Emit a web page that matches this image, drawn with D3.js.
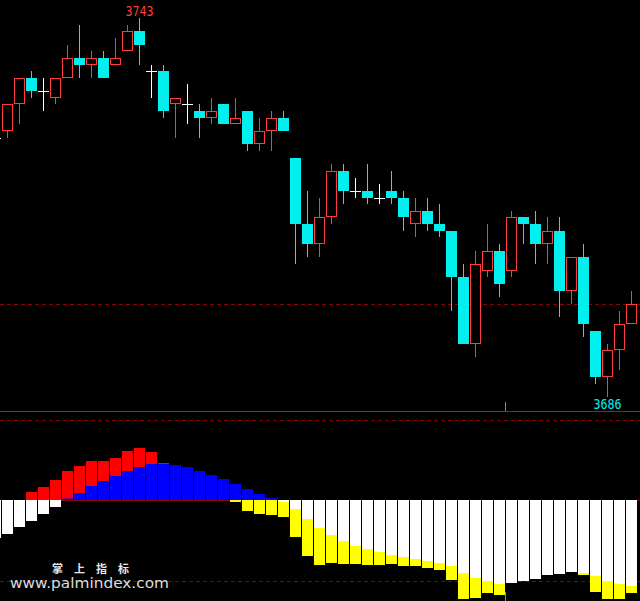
<!DOCTYPE html>
<html>
<head>
<meta charset="utf-8">
<script src="https://cdn.jsdelivr.net/npm/d3@7/dist/d3.min.js"></script>
<style>
  html, body { margin: 0; padding: 0; background: #000; }
  svg { display: block; }
</style>
</head>
<body>
<div id="chart"></div>
<script>
// ---------- data ----------
const bars = [-1,0,1,2,3,4,5,6,7,8,9,10,11,12,13,14,15,16,17,18,19,20,21,22,23,24,25,26,27,28,29,30,31,32,33,34,35,36,37,38,39,40,41,42,43,44,45,46,47,48,49,50,51,52];
const openP  = [3725,3726,3730,3734,3732,3731,3734,3737,3736,3737,3736,3738,3741,3735,3735,3730,3730,3729,3728,3730,3727,3729,3724,3726,3728,3722,3712,3709,3713,3720,3717,3717,3716,3717,3716,3712,3714,3712,3711,3704,3694,3705,3708,3705,3713,3712,3709,3711,3702,3707,3696,3689,3693,3697];
const highP  = [3726,3730,3734,3735,3734,3734,3739,3742,3738,3738,3740,3742,3743,3736,3736,3731,3733,3730,3731,3730,3731,3729,3728,3729,3729,3722,3717,3716,3721,3721,3719,3721,3718,3720,3717,3716,3716,3715,3711,3706,3708,3712,3709,3714,3713,3714,3713,3713,3707,3709,3696,3694,3699,3702];
const lowP   = [3724,3725,3727,3731,3729,3730,3734,3734,3734,3734,3736,3738,3736,3731,3728,3725,3727,3725,3727,3727,3727,3723,3723,3723,3726,3706,3707,3707,3712,3715,3716,3715,3715,3715,3711,3710,3711,3710,3699,3694,3692,3704,3701,3704,3709,3706,3706,3698,3700,3695,3688,3686,3690,3697];
const closeP = [3725,3730,3734,3732,3732,3734,3737,3736,3737,3734,3737,3741,3739,3735,3729,3731,3730,3728,3729,3727,3728,3724,3726,3728,3726,3712,3709,3713,3720,3717,3717,3716,3716,3716,3713,3714,3712,3711,3704,3694,3706,3708,3703,3713,3712,3709,3711,3702,3707,3697,3689,3693,3697,3700];
// indicator: series 1 (red when >0, yellow when <0), series 2 drawn over it (blue when >0, white when <0)
const ind1 = [-20,-12,-3,8,13,20,29,34,39,39,42,49,52,48,37,30,23,16,10,4,-2,-11,-14,-15,-17,-37,-56,-65,-63,-64,-64,-65,-65,-64,-66,-66,-68,-70,-80,-99,-98,-93,-95,-80,-74,-70,-68,-68,-70,-75,-92,-99,-99,-93];
const ind2 = [-38,-34,-27,-21,-14,-7,1.5,7,14,19,24,29,33,36,36,35,33,29,25,21,16,11,6,2,-2,-9,-19,-28,-35,-41,-46,-49,-52,-55,-57,-59,-61,-63,-66,-73,-78,-81,-84,-83,-81,-79,-75,-74,-72,-73,-76,-81,-84,-86];
const priceDomain = [3686, 3743];
const priceRefLevel = 3700;
const indDomain = [-100, 100];
const indRefLevels = [80, -81];
const separatorBar = 41.5;
const watermark1 = "掌上指标";
const watermark2 = "www.palmindex.com";

// ---------- layout ----------
const W = 640, H = 601;
const C = { red: "#ff3b3b", cyan: "#00f0f0", white: "#ffffff", blue: "#0000ff", redBar: "#ff0000", yellow: "#ffff00", dash: "#8c0000", sep: "#b01818" };

const svg = d3.select("#chart").append("svg").attr("width", W).attr("height", H);
svg.append("rect").attr("width", W).attr("height", H).attr("fill", "#000");

const x = d3.scaleBand().domain(bars).range([-11, -11 + 12 * bars.length]).padding(0);
const cx = i => x(i) + 6.5;           // wick centre
const y = d3.scaleLinear().domain(priceDomain).range([397, 18]);
const yi = d3.scaleLinear().domain(indDomain).range([600, 400]);

const data = bars.map((b, k) => ({ b, o: openP[k], h: highP[k], l: lowP[k], c: closeP[k], s1: ind1[k], s2: ind2[k] }));

// ---------- upper panel ----------
svg.append("line").attr("x1", 0).attr("x2", W).attr("y1", Math.round(y(priceRefLevel)) + 0.5).attr("y2", Math.round(y(priceRefLevel)) + 0.5)
  .attr("stroke", C.dash).attr("stroke-dasharray", "4,3");

const cg = svg.append("g");
data.forEach(d => {
  const col = d.c > d.o ? C.red : (d.c < d.o ? C.cyan : C.white);
  const top = Math.round(y(Math.max(d.o, d.c)));
  const bot = Math.round(y(Math.min(d.o, d.c)));
  const hy = Math.round(y(d.h)), ly = Math.round(y(d.l));
  const xc = cx(d.b);
  if (d.c === d.o) {
    cg.append("line").attr("x1", xc).attr("x2", xc).attr("y1", hy).attr("y2", ly).attr("stroke", col);
    cg.append("line").attr("x1", x(d.b) + 1).attr("x2", x(d.b) + 12).attr("y1", top + 0.5).attr("y2", top + 0.5).attr("stroke", col);
    return;
  }
  if (hy < top) cg.append("line").attr("x1", xc).attr("x2", xc).attr("y1", hy).attr("y2", top).attr("stroke", col);
  if (ly > bot) cg.append("line").attr("x1", xc).attr("x2", xc).attr("y1", bot).attr("y2", ly).attr("stroke", col);
  if (d.c > d.o) {
    cg.append("rect").attr("x", x(d.b) + 1.5).attr("y", top + 0.5).attr("width", 10).attr("height", Math.max(1, bot - top - 1))
      .attr("fill", "#000").attr("stroke", col).attr("stroke-width", 1);
  } else {
    cg.append("rect").attr("x", x(d.b) + 1).attr("y", top).attr("width", 11).attr("height", Math.max(1, bot - top))
      .attr("fill", col);
  }
});

// high / low labels
const iMax = d3.maxIndex(data, d => d.h), iMin = d3.minIndex(data, d => d.l);
svg.append("text").attr("x", cx(data[iMax].b)).attr("y", 16).attr("text-anchor", "middle")
  .attr("fill", C.red).attr("font-family", "DejaVu Sans Mono").attr("font-size", 14)
  .attr("textLength", 28).attr("lengthAdjust", "spacingAndGlyphs").text(data[iMax].h);
svg.append("text").attr("x", cx(data[iMin].b)).attr("y", 409).attr("text-anchor", "middle")
  .attr("fill", C.cyan).attr("font-family", "DejaVu Sans Mono").attr("font-size", 14)
  .attr("textLength", 28).attr("lengthAdjust", "spacingAndGlyphs").text(data[iMin].l);

// ---------- separator ----------
svg.append("line").attr("x1", 0).attr("x2", W).attr("y1", 411.5).attr("y2", 411.5).attr("stroke", C.sep);
const sepX = x(Math.floor(separatorBar)) + 12.5;
svg.append("line").attr("x1", sepX).attr("x2", sepX).attr("y1", 402).attr("y2", 411).attr("stroke", "#888");
svg.append("line").attr("x1", sepX).attr("x2", sepX).attr("y1", 592).attr("y2", 601).attr("stroke", "#888");

// ---------- lower panel ----------
indRefLevels.forEach(v => {
  svg.append("line").attr("x1", 0).attr("x2", W).attr("y1", Math.round(yi(v)) + 0.5).attr("y2", Math.round(yi(v)) + 0.5)
    .attr("stroke", C.dash).attr("stroke-dasharray", "4,3");
});
svg.append("line").attr("x1", 0).attr("x2", W).attr("y1", yi(0) + 0.5).attr("y2", yi(0) + 0.5).attr("stroke", C.dash);

const bg = svg.append("g");
function barRect(d, v, colPos, colNeg) {
  const y0 = yi(0), y1 = yi(v);
  bg.append("rect").attr("x", x(d.b) + 1).attr("width", 11)
    .attr("y", Math.min(y0, y1)).attr("height", Math.abs(y1 - y0))
    .attr("fill", v >= 0 ? colPos : colNeg);
}
data.forEach(d => barRect(d, d.s1, C.redBar, C.yellow));
data.forEach(d => barRect(d, d.s2, C.blue, C.white));

// watermark
svg.append("text").attr("x", 52).attr("y", 573).attr("fill", "#e8e8e8")
  .attr("font-family", "Noto Sans CJK SC").attr("font-weight", "bold").attr("font-size", 11)
  .attr("letter-spacing", 11).text(watermark1);
svg.append("text").attr("x", 10).attr("y", 588).attr("fill", "#dcdcdc")
  .attr("font-family", "DejaVu Sans").attr("font-size", 14)
  .attr("textLength", 159).attr("lengthAdjust", "spacingAndGlyphs").text(watermark2);
</script>
</body>
</html>
